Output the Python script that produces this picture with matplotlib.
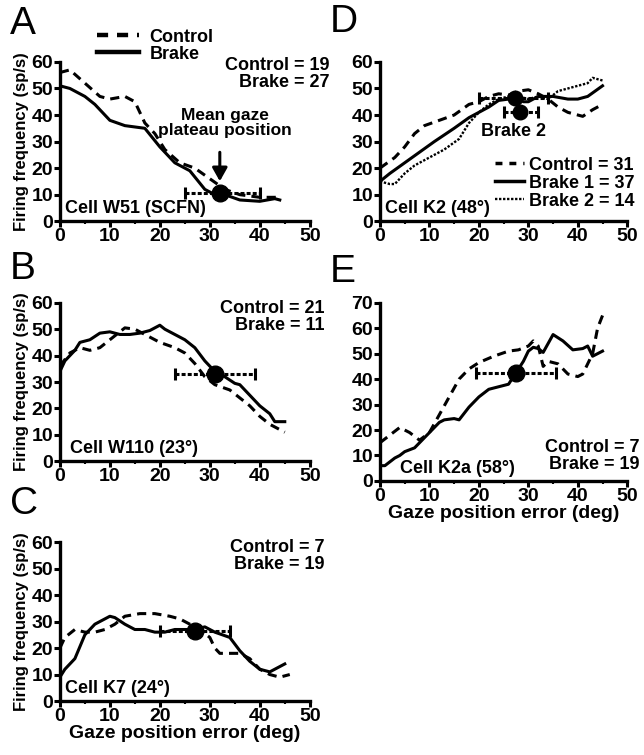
import numpy as np
import matplotlib
matplotlib.use("Agg")
import matplotlib.pyplot as plt
from matplotlib.ticker import MultipleLocator

plt.rcParams['font.family'] = ['Liberation Sans', 'DejaVu Sans']
plt.rcParams['font.weight'] = 'bold'

# ---- data ----
a_brake_x = [0, 2, 5, 7, 10, 13, 17, 20, 23, 26, 29, 31, 33, 36, 40, 43, 44]
a_brake_y = [51, 50, 47, 44, 38, 36, 35, 28, 22, 19, 12, 10, 10, 8, 7.5, 8.5, 8]
a_ctrl_x = [0, 2, 5, 8, 10, 13, 15, 17, 19, 21, 24, 27, 30, 33, 36, 40, 44]
a_ctrl_y = [56, 57, 52, 47, 46, 47, 45, 37, 33, 27, 22, 20, 16, 12, 10, 9, 9]

b_brake_x = [0, 1, 3, 4, 6, 8, 10, 12, 14, 16, 18, 20, 21, 23, 25, 27, 29, 31, 33, 35, 36, 38, 40, 42, 43, 45]
b_brake_y = [34, 38, 42, 45, 46, 48.5, 49, 48, 48, 48.5, 49.5, 51.5, 50, 48, 46, 43, 38, 34, 32, 29.5, 29, 25, 21, 18, 15, 15]
b_ctrl_x = [0, 2, 4, 6, 8, 10, 12, 13, 15, 17, 20, 23, 25, 27, 29, 31, 34, 36, 38, 40, 42, 45]
b_ctrl_y = [36, 41, 43, 42, 43, 46, 49, 50.5, 50, 48, 45, 43, 41, 37, 32, 29, 27, 24, 21, 17, 14, 11]

c_brake_x = [0, 1, 3, 5, 7, 9, 10, 11, 13, 15, 17, 19, 21, 23, 25, 27, 29, 31, 34, 36, 38, 40, 42, 44, 45]
c_brake_y = [9, 12, 16, 25, 29, 31, 32, 31.5, 29, 27, 27, 26, 26, 27, 27, 27, 28, 26, 24, 19, 15, 12, 11, 13, 14]
c_ctrl_x = [0, 1, 3, 5, 7, 9, 11, 13, 16, 19, 22, 24, 26, 28, 30, 31, 32, 34, 36, 38, 40, 42, 44, 46]
c_ctrl_y = [20, 24, 27, 26, 26, 27, 29, 32, 33, 33, 32, 31, 29, 27, 24, 20, 18, 18, 18, 16, 12, 10, 9, 10]

d_b1_x = [0, 2, 5, 8, 11, 15, 18, 20, 22, 24, 26, 28, 29, 30, 32, 35, 38, 40, 42, 45]
d_b1_y = [15, 18, 22, 26, 30, 35, 39, 41, 43, 45.5, 46, 46, 45, 45, 47, 47, 46, 46, 47, 51]
d_ctrl_x = [0, 3, 5, 7, 9, 12, 15, 18, 20, 22, 24, 26, 28, 30, 32, 34, 36, 38, 41, 43, 45]
d_ctrl_y = [20, 24, 28, 33, 36, 38, 40, 44, 45, 47, 48, 47.5, 49, 49.5, 48, 46, 43, 41, 39.5, 42, 44]
d_b2_x = [0, 2, 3, 5, 7, 10, 13, 16, 18, 20, 22, 24, 26, 28, 30, 32, 34, 36, 38, 40, 42, 43, 45]
d_b2_y = [15, 14, 14, 18, 21, 24, 27, 31, 37, 41, 44, 46, 47, 47, 46, 47, 46, 49, 50, 51, 52, 54, 53]

e_brake_x = [0, 1, 3, 4, 5, 7, 8, 10, 12, 13, 15, 16, 18, 20, 22, 24, 26, 27, 28, 29, 30, 31, 32, 33, 35, 37, 39, 41, 42, 43, 45]
e_brake_y = [6, 6, 9, 10, 11.5, 13, 15, 19, 23, 24, 24.5, 24, 29, 33, 36, 37, 38, 41, 44, 47, 51, 52.5, 52, 50.5, 57.5, 55, 51.5, 52, 53, 49, 51]
e_ctrl_x = [0, 2, 4, 6, 8, 10, 12, 14, 16, 18, 20, 23, 26, 28, 30, 31, 32, 33, 34, 36, 38, 40, 41, 43, 44, 45]
e_ctrl_y = [15, 18, 21, 19, 16, 19, 26, 33, 40, 44, 46.5, 49, 51, 51.5, 53, 55, 53, 45, 47, 46, 42, 41, 42, 50, 60, 65]

# mean plateau position (x, y, lo, hi)
a_mean = (32, 10.5, 25, 40)
b_mean = (31, 33, 23, 39)
c_mean = (27, 26.5, 20, 34)
d_mean1 = (27.3, 46.5, 20, 34)
d_mean2 = (28.4, 41, 25, 32)
e_mean = (27.5, 42.5, 19.5, 35.5)

fig = plt.figure(figsize=(6.44, 7.55), dpi=100)
fs = 13
tfs = 14
lfs = 12

def make_ax(rect, ymax, ystep=10):
    ax = fig.add_axes(rect)
    for s in ['top', 'right']:
        ax.spines[s].set_visible(False)
    for s in ['left', 'bottom']:
        ax.spines[s].set_linewidth(2.4)
    ax.set_xlim(0, 50)
    ax.set_ylim(0, ymax)
    ax.xaxis.set_major_locator(MultipleLocator(10))
    ax.xaxis.set_minor_locator(MultipleLocator(5))
    ax.yaxis.set_major_locator(MultipleLocator(ystep))
    ax.tick_params(which='major', length=4, width=2.2, labelsize=tfs, pad=1)
    ax.tick_params(which='minor', length=2.5, width=1.5)
    for lab in ax.get_xticklabels() + ax.get_yticklabels():
        lab.set_fontweight('bold')
    return ax

def mean_bar(ax, m, ms=12):
    x, y, lo, hi = m
    ax.errorbar([x], [y], xerr=[[x - lo], [hi - x]], fmt='o', color='black',
                ms=ms, ecolor='black', elinewidth=2.2, capsize=4.5, capthick=2.2,
                linestyle='none', zorder=5)[2][0].set_linestyle((0, (1.3, 0.7)))

lw = 2.2
dash = (0, (3, 2))

# A
axA = make_ax([0.093, 0.707, 0.388, 0.211], 60)
axA.plot(a_ctrl_x, a_ctrl_y, color='black', lw=lw, ls=dash)
axA.plot(a_brake_x, a_brake_y, color='black', lw=lw)
mean_bar(axA, a_mean)
axA.annotate('', xy=(32, 14), xytext=(32, 27),
             arrowprops=dict(arrowstyle='-|>,head_width=0.45,head_length=0.8', color='black', lw=2.2))
axA.text(33, 31.5, 'Mean gaze\nplateau position', ha='center', va='bottom', fontsize=12.5,
         fontweight='bold', linespacing=1.0)
axA.text(1, 3, 'Cell W51 (SCFN)', fontsize=fs, fontweight='bold')
axA.text(54, 62, 'Control = 19\nBrake = 27', ha='right', va='top', fontsize=fs,
         fontweight='bold', linespacing=1.0, clip_on=False)
axA.set_ylabel('Firing frequency (sp/s)', fontsize=lfs, fontweight='bold', labelpad=2)
axA.plot([], [], color='black', lw=3.2, ls=(0, (2.5, 2)), label='Control')
axA.plot([], [], color='black', lw=3.2, label='Brake')
axA.legend(loc='lower left', bbox_to_anchor=(0.12, 0.95), frameon=False,
           handlelength=2.3, handletextpad=0.6, labelspacing=0.0, borderaxespad=0,
           prop={'weight': 'bold', 'size': fs})

# B
axB = make_ax([0.093, 0.389, 0.388, 0.210], 60)
axB.plot(b_ctrl_x, b_ctrl_y, color='black', lw=lw, ls=dash)
axB.plot(b_brake_x, b_brake_y, color='black', lw=lw)
mean_bar(axB, b_mean)
axB.text(2, 3, 'Cell W110 (23°)', fontsize=fs, fontweight='bold')
axB.text(53, 61, 'Control = 21\nBrake = 11', ha='right', va='top', fontsize=fs,
         fontweight='bold', linespacing=1.0, clip_on=False)
axB.set_ylabel('Firing frequency (sp/s)', fontsize=lfs, fontweight='bold', labelpad=2)

# C
axC = make_ax([0.093, 0.0715, 0.388, 0.2105], 60)
axC.plot(c_ctrl_x, c_ctrl_y, color='black', lw=lw, ls=dash)
axC.plot(c_brake_x, c_brake_y, color='black', lw=lw)
mean_bar(axC, c_mean)
axC.text(1, 3, 'Cell K7 (24°)', fontsize=fs, fontweight='bold')
axC.text(53, 61, 'Control = 7\nBrake = 19', ha='right', va='top', fontsize=fs,
         fontweight='bold', linespacing=1.0, clip_on=False)
axC.set_ylabel('Firing frequency (sp/s)', fontsize=lfs, fontweight='bold', labelpad=2)
axC.set_xlabel('Gaze position error (deg)', fontsize=tfs, fontweight='bold', labelpad=0)

# D
axD = make_ax([0.590, 0.707, 0.384, 0.211], 60)
axD.plot(d_ctrl_x, d_ctrl_y, color='black', lw=lw, ls=dash)
axD.plot(d_b1_x, d_b1_y, color='black', lw=lw)
axD.plot(d_b2_x, d_b2_y, color='black', lw=1.7, ls=(0, (1, 0.7)))
mean_bar(axD, d_mean1, ms=10.5)
mean_bar(axD, d_mean2, ms=10.5)
axD.text(27, 37, 'Brake 2', ha='center', va='top', fontsize=fs, fontweight='bold')
axD.text(1, 3, 'Cell K2 (48°)', fontsize=fs, fontweight='bold')
axD.plot([], [], color='black', lw=2.5, ls=(0, (2, 2)), label='Control = 31')
axD.plot([], [], color='black', lw=2.5, label='Brake 1 = 37')
axD.plot([], [], color='black', lw=1.7, ls=(0, (1, 0.7)), label='Brake 2 = 14')
axD.legend(loc='upper right', bbox_to_anchor=(1.06, 0.45), frameon=False,
           handlelength=1.6, handletextpad=0.3, labelspacing=0.05, borderaxespad=0,
           prop={'weight': 'bold', 'size': fs})

# E
axE = make_ax([0.590, 0.363, 0.384, 0.236], 70)
axE.plot(e_ctrl_x, e_ctrl_y, color='black', lw=lw, ls=dash)
axE.plot(e_brake_x, e_brake_y, color='black', lw=lw)
mean_bar(axE, e_mean)
axE.text(4, 3, 'Cell K2a (58°)', fontsize=fs, fontweight='bold')
axE.text(52.5, 3, 'Control = 7\nBrake = 19', ha='right', va='bottom', fontsize=fs,
         fontweight='bold', linespacing=1.0, clip_on=False)
axE.set_xlabel('Gaze position error (deg)', fontsize=tfs, fontweight='bold', labelpad=0)

# panel letters
for lab, x, y in [('A', 0.015, 0.955), ('B', 0.015, 0.63), ('C', 0.015, 0.319),
                  ('D', 0.512, 0.958), ('E', 0.512, 0.626)]:
    fig.text(x, y, lab, fontsize=28, fontweight='normal', va='baseline')

fig.savefig('out.png', dpi=100)
